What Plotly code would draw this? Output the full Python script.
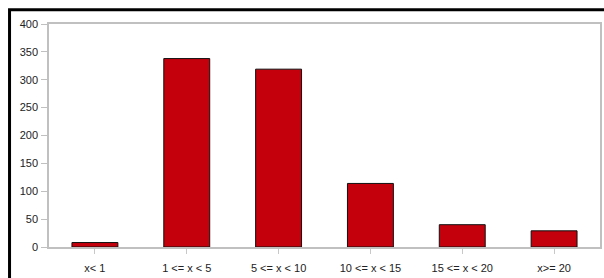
import plotly.graph_objects as go

categories = ["x< 1", "1 <= x < 5", "5 <= x < 10", "10 <= x < 15", "15 <= x < 20", "x>= 20"]
values = [8, 338, 319, 114, 40, 29]
y_ticks = [0, 50, 100, 150, 200, 250, 300, 350, 400]

W, H = 604, 278
L, R, T, B = 48.5, 4, 24.3, 30.7
pw = W - L - R
ph = H - T - B

fig = go.Figure()
fig.add_trace(go.Bar(
    x=categories, y=values,
    marker=dict(color="#C4000C", line=dict(color="#111111", width=1)),
    width=0.5,
))

def px_to_paper_x(px):
    return (px - L) / pw

def py_to_paper_y(py):
    return (H - B - py) / ph

fig.add_shape(type="rect", xref="paper", yref="paper",
              x0=px_to_paper_x(9), x1=px_to_paper_x(640),
              y0=py_to_paper_y(320), y1=py_to_paper_y(10),
              line=dict(color="black", width=3), fillcolor="rgba(0,0,0,0)", layer="above")

fig.update_layout(
    width=W, height=H,
    margin=dict(l=L, r=R, t=T, b=B, pad=0),
    paper_bgcolor="white", plot_bgcolor="white",
    font=dict(family="Liberation Sans, Arial, sans-serif", size=11, color="#222222"),
    showlegend=False,
    xaxis=dict(
        showgrid=False, showline=True, linecolor="#c0c0c0", linewidth=1.5, mirror=True,
        ticks="outside", ticklen=5, tickcolor="#c8c8c8", tickwidth=1,
        ticklabelstandoff=5, automargin=False,
    ),
    yaxis=dict(
        range=[0, 400], tickvals=y_ticks, showgrid=False, zeroline=False,
        showline=True, linecolor="#c0c0c0", linewidth=1.5, mirror=True,
        ticks="outside", ticklen=6, tickcolor="#c0c0c0", tickwidth=1,
        ticklabelstandoff=1, automargin=False,
    ),
)

fig.write_html("out.html", config={"displayModeBar": False},
               post_script="document.body.style.margin='0';document.body.style.overflow='hidden';")
